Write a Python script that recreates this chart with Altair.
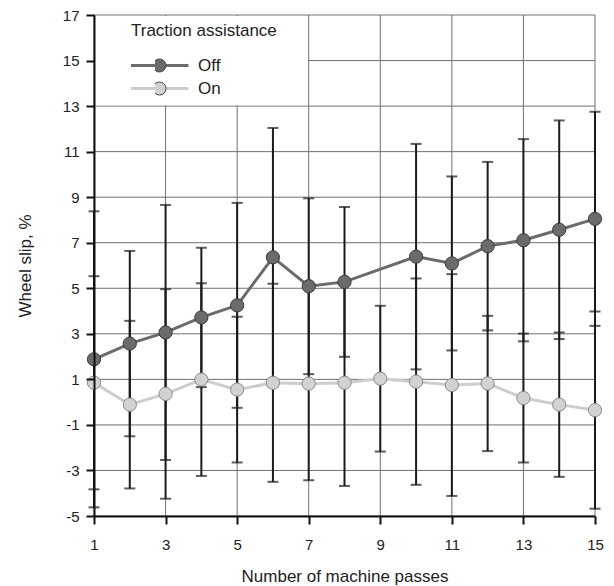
import altair as alt
import pandas as pd

# ---- data ----
passes = list(range(1, 16))
off_mean = [1.88, 2.57, 3.06, 3.72, 4.25, 6.36, 5.09, 5.28, None, 6.39, 6.09, 6.85, 7.11, 7.57, 8.05]
off_sd = [6.50, 4.07, 5.60, 3.06, 4.50, 5.68, 3.86, 3.29, None, 4.95, 3.82, 3.70, 4.44, 4.80, 4.70]
on_mean = [0.85, -0.11, 0.36, 0.99, 0.55, 0.85, 0.81, 0.85, 1.03, 0.90, 0.75, 0.82, 0.18, -0.11, -0.35]
on_sd = [4.68, 3.68, 4.60, 4.23, 3.20, 4.35, 4.24, 4.53, 3.20, 4.53, 4.87, 2.97, 2.83, 3.17, 4.33]
series_names = ["Off", "On"]
x_ticks = [1, 3, 5, 7, 9, 11, 13, 15]
y_ticks = [-5, -3, -1, 1, 3, 5, 7, 9, 11, 13, 15, 17]

rows = []
for name, means, sds in [("Off", off_mean, off_sd), ("On", on_mean, on_sd)]:
    for p, m, s in zip(passes, means, sds):
        if m is None:
            continue
        rows.append({"pass": p, "series": name, "mean": m, "lo": m - s, "hi": m + s})
df = pd.DataFrame(rows)

FONT = "Liberation Sans"
TXT = "#222222"
HYPHEN_LABEL = "datum.value < 0 ? '-' + abs(datum.value) : '' + datum.value"

xscale = alt.Scale(domain=[1, 15], nice=False, zero=False)
yscale = alt.Scale(domain=[-5, 17], nice=False, zero=False)

xaxis = alt.Axis(
    title="Number of machine passes", values=x_ticks, grid=False,
    domainColor="#111111", domainWidth=2, tickColor="#111111", tickWidth=2, tickSize=8,
    labelFont=FONT, labelFontSize=15, labelColor=TXT, labelPadding=13, labelFlush=False,
    titleFont=FONT, titleFontSize=17, titleFontWeight="normal", titleColor=TXT, titlePadding=16,
    zindex=1,
)
yaxis = alt.Axis(
    title="Wheel slip, %", values=y_ticks, grid=False, labelExpr=HYPHEN_LABEL,
    domainColor="#111111", domainWidth=2, tickColor="#111111", tickWidth=2, tickSize=8,
    labelFont=FONT, labelFontSize=15, labelColor=TXT, labelPadding=7, labelFlush=False,
    titleFont=FONT, titleFontSize=17, titleFontWeight="normal", titleColor=TXT, titlePadding=28,
    zindex=1,
)


def X(field):
    return alt.X(field, type="quantitative", scale=xscale, axis=xaxis)


def Y(field):
    return alt.Y(field, type="quantitative", scale=yscale, axis=yaxis)


GRID = "#707070"
vgrid = alt.Chart(pd.DataFrame({"v": x_ticks})).mark_rule(color=GRID, strokeWidth=1).encode(x=X("v"))
hgrid = alt.Chart(pd.DataFrame({"v": y_ticks})).mark_rule(color=GRID, strokeWidth=1).encode(y=Y("v"))

# white box behind the legend (grid is hidden there)
box = alt.Chart(pd.DataFrame({"x1": [1.0], "x2": [6.98], "y1": [13.04], "y2": [16.96]})).mark_rect(
    color="white"
).encode(x=X("x1"), x2="x2", y=Y("y1"), y2="y2")

base = alt.Chart(df)
err = base.mark_rule(color="#1a1a1a", strokeWidth=2).encode(x=X("pass"), y=Y("lo"), y2="hi")
caps = base.transform_fold(["lo", "hi"], as_=["which", "val"]).mark_tick(
    color="#1a1a1a", orient="horizontal", size=11, thickness=2
).encode(x=X("pass"), y=Y("val"))

stroke_legend = alt.Legend(
    title="Traction assistance", orient="none", legendX=37, legendY=8,
    symbolType="stroke", symbolSize=3600, symbolStrokeWidth=3, clipHeight=23, rowPadding=0,
    titleFont=FONT, titleFontSize=17, titleFontWeight="normal", titleColor=TXT, titlePadding=14,
    labelFont=FONT, labelFontSize=17, labelColor=TXT, labelOffset=8, padding=0, symbolOffset=-4,
)
fill_legend = alt.Legend(
    title=" ", orient="none", legendX=61, legendY=8,
    symbolType="circle", symbolSize=170, symbolStrokeColor="#4a4a4a", symbolStrokeWidth=1,
    symbolOpacity=1, clipHeight=23, rowPadding=0,
    titleFont=FONT, titleFontSize=17, titleFontWeight="normal", titleColor=TXT, titlePadding=14,
    labelFont=FONT, labelFontSize=17, labelColor=TXT, labelExpr="''", labelOffset=8, padding=0,
    symbolOffset=-4,
)

lines = base.mark_line(strokeWidth=3).encode(
    x=X("pass"), y=Y("mean"),
    stroke=alt.Stroke("series:N", scale=alt.Scale(domain=series_names, range=["#6b6b6b", "#cdcdcd"]),
                      legend=stroke_legend),
)
points = base.mark_point(shape="circle", filled=True, size=175, opacity=1, strokeWidth=1).encode(
    x=X("pass"), y=Y("mean"),
    fill=alt.Fill("series:N", scale=alt.Scale(domain=series_names, range=["#6b6b6b", "#d2d2d2"]),
                  legend=fill_legend),
    stroke=alt.condition(alt.datum.series == "Off", alt.value("#3a3a3a"), alt.value("#8a8a8a")),
)

chart = alt.layer(vgrid, hgrid, box, err, caps, lines, points).resolve_scale(
    stroke="independent", fill="independent"
).properties(
    width=501, height=501,
    autosize=alt.AutoSizeParams(type="none"),
    padding={"left": 94, "top": 15, "right": 19, "bottom": 70},
    background="white",
).configure_view(stroke=None)

chart.save("out.html", embed_options={"renderer": "svg", "actions": False})
